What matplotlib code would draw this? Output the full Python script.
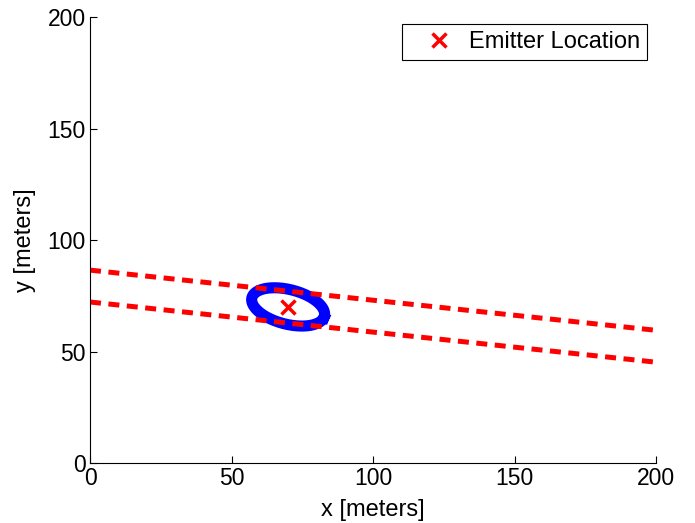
import numpy as np
import matplotlib
matplotlib.use('Agg')
import matplotlib.pyplot as plt
from matplotlib.legend_handler import HandlerLine2D

plt.rcParams['font.family'] = ['Liberation Sans', 'DejaVu Sans']

# data
emitter_x = [70]
emitter_y = [70]
line_x = [0, 200]
upper_y = [86.5, 59.5]
lower_y = [72.2, 45.2]

# error ellipse (centre, semi axes, tilt in degrees)
ell_center = (70, 70)
ell_a = 13.5
ell_b = 7.6
ell_angle = -21

t = np.linspace(0, 2 * np.pi, 200)
th = np.deg2rad(ell_angle)
ex = ell_center[0] + ell_a * np.cos(t) * np.cos(th) - ell_b * np.sin(t) * np.sin(th)
ey = ell_center[1] + ell_a * np.cos(t) * np.sin(th) + ell_b * np.sin(t) * np.cos(th)

fig = plt.figure(figsize=(6.95, 5.23), dpi=100)
ax = fig.add_axes([0.1295, 0.1147, 0.8145, 0.8528])

ax.plot(ex, ey, color='blue', lw=8)
ax.plot(line_x, upper_y, color='red', lw=3.6, dashes=(2.2, 1.5))
ax.plot(line_x, lower_y, color='red', lw=3.6, dashes=(2.2, 1.5))
em, = ax.plot(emitter_x, emitter_y, 'x', color='red', ms=10, mew=2.5, label='Emitter Location')

ax.set_xlim(0, 200)
ax.set_ylim(0, 200)
ax.set_xticks([0, 50, 100, 150, 200])
ax.set_yticks([0, 50, 100, 150, 200])
ax.tick_params(direction='in', labelsize=16.5, length=5, pad=3)
ax.spines['top'].set_visible(False)
ax.spines['right'].set_visible(False)
ax.set_xlabel('x [meters]', fontsize=17, labelpad=6)
ax.set_ylabel('y [meters]', fontsize=17, labelpad=8.5)

lgd = ax.legend(loc='upper right', fontsize=17, fancybox=False, edgecolor='black',
                borderpad=0.3, handlelength=2.04, handletextpad=0.5, framealpha=1,
                borderaxespad=0, bbox_to_anchor=(0.984, 0.984),
                handler_map={em: HandlerLine2D(numpoints=1, xpad=0.5)})
lgd.get_frame().set_linewidth(0.8)

fig.savefig('out.png')
